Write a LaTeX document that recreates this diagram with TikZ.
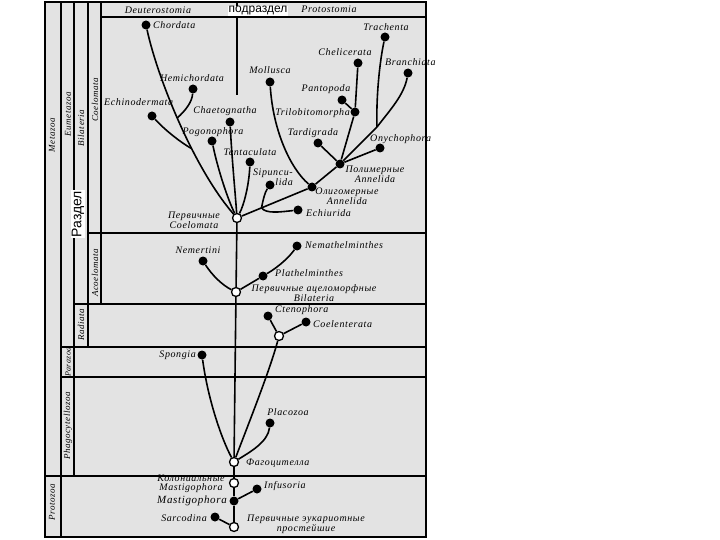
\documentclass[tikz,border=0pt]{standalone}
\usepackage{fontspec}
\newfontfamily\labfont[LetterSpace=6]{Liberation Serif}
\newfontfamily\annfont{Liberation Sans}
\begin{document}
\begin{tikzpicture}[x=1pt,y=-1pt,
  dot/.style={circle,fill=black,inner sep=0pt,minimum size=9pt},
  odot/.style={circle,draw=black,fill=white,line width=1.3pt,inner sep=0pt,minimum size=9pt},
  lab/.style={font=\labfont\itshape\fontsize{10}{8.6}\selectfont,inner sep=0pt,align=center},
  clab/.style={lab,font=\labfont\itshape\fontsize{9}{9}\selectfont,rotate=90},
  ann/.style={font=\annfont,fill=white,inner sep=0.5pt},
  br/.style={line width=1.6pt},
  frame/.style={line width=1.1pt}]
\useasboundingbox (0,0) rectangle (720,540);
% frame
\fill[black!11] (45,2) rectangle (426,537);
\draw[frame] (45,2) rectangle (426,537);
\draw[frame] (61,2) -- (61,537);
\draw[frame] (74,2) -- (74,476);
\draw[frame] (88,2) -- (88,347);
\draw[frame] (101,2) -- (101,304);
\draw[frame] (101,17) -- (426,17);
\draw[frame] (88,233) -- (426,233);
\draw[frame] (74,304) -- (426,304);
\draw[frame] (61,347) -- (426,347);
\draw[frame] (61,377) -- (426,377);
\draw[frame] (45,476) -- (426,476);
% column labels
\node[clab] (metazoa) at (52,135) {Metazoa};
\node[clab] (eumetazoa) at (68,114) {Eumetazoa};
\node[clab] (bilateria) at (81,128) {Bilateria};
\node[clab] (coelomata) at (95,100) {Coelomata};
\node[clab] (acoelomata) at (95,273) {Acoelomata};
\node[clab] (radiata) at (81,325) {Radiata};
\node[clab,font=\labfont\itshape\fontsize{8}{8}\selectfont] (parazoa) at (68,362) {Parazoa};
\node[clab] (phagocytellozoa) at (68,426) {Phagocytellozoa};
\node[clab] (protozoa) at (52,502) {Protozoa};
\node[lab] (deut) at (158,10) {Deuterostomia};
\node[lab] (prot) at (329,9) {Protostomia};
% annotation line
\coordinate (subTop) at (237,2);
\coordinate (subBot) at (237,95);
\draw[line width=1.4pt] (subTop) -- (subBot);
\node[ann,font=\annfont\fontsize{12}{12}\selectfont] (podrazdel) at (258,11) {подраздел};
\node[ann,font=\annfont\fontsize{14}{14}\selectfont,rotate=90] (razdel) at (78,214) {Раздел};
% nodes
\node[odot] (coel) at (237,218) {};
\node[odot] (acoel) at (236,292) {};
\node[odot] (radJ) at (279,336) {};
\node[odot] (phago) at (234,462) {};
\node[odot] (kolon) at (234,483) {};
\node[odot] (prim) at (234,527) {};
\node[dot] (chordata) at (146,25) {};
\node[dot] (hemi) at (193,89) {};
\node[dot] (echino) at (152,116) {};
\node[dot] (chaeto) at (230,122) {};
\node[dot] (pogono) at (212,141) {};
\node[dot] (tenta) at (250,162) {};
\node[dot] (sipun) at (270,185) {};
\node[dot] (echiu) at (298,210) {};
\node[dot] (olig) at (312,187) {};
\node[dot] (poly) at (340,164) {};
\node[dot] (tardi) at (318,143) {};
\node[dot] (onycho) at (380,148) {};
\node[dot] (mollusca) at (270,82) {};
\node[dot] (trilob) at (355,112) {};
\node[dot] (panto) at (342,100) {};
\node[dot] (cheli) at (358,63) {};
\node[dot] (trach) at (385,37) {};
\node[dot] (branch) at (408,73) {};
\coordinate (artJ) at (377,127);
\node[dot] (nemert) at (203,261) {};
\node[dot] (nemath) at (297,246) {};
\node[dot] (plath) at (263,276) {};
\node[dot] (cteno) at (268,316) {};
\node[dot] (coelent) at (306,322) {};
\node[dot] (spongia) at (202,355) {};
\node[dot] (placo) at (270,423) {};
\node[dot] (mastig) at (234,501) {};
\node[dot] (infus) at (257,489) {};
\node[dot] (sarco) at (215,517) {};
% labels
\node[lab,anchor=west] (chordataL) at (153,25) {Chordata};
\node[lab] (hemiL) at (192,78) {Hemichordata};
\node[lab,anchor=west] (echinoL) at (104,102) {Echinodermata};
\node[lab] (chaetoL) at (225,111) {Chaetognatha};
\node[lab] (pogonoL) at (213,132) {Pogonophora};
\node[lab] (tentaL) at (250,152) {Tentaculata};
\node[lab,align=right,anchor=north east] (sipunL) at (293,169) {Sipuncu-\\lida};
\node[lab,anchor=west] (echiuL) at (306,213) {Echiurida};
\node[lab] (oligL) at (347,196) {Олигомерные\\Annelida};
\node[lab] (polyL) at (375,174) {Полимерные\\Annelida};
\node[lab] (tardiL) at (313,133) {Tardigrada};
\node[lab,anchor=west] (onychoL) at (370,139) {Onychophora};
\node[lab] (molluscaL) at (270,70) {Mollusca};
\node[lab,anchor=east] (trilobL) at (350,113) {Trilobitomorpha};
\node[lab] (pantoL) at (326,89) {Pantopoda};
\node[lab] (cheliL) at (345,52) {Chelicerata};
\node[lab] (trachL) at (386,27) {Trachenta};
\node[lab,anchor=west] (branchL) at (385,62) {Branchiata};
\node[lab] (coelL) at (194,220) {Первичные\\Coelomata};
\node[lab] (nemertL) at (198,250) {Nemertini};
\node[lab,anchor=west] (nemathL) at (305,245) {Nemathelminthes};
\node[lab,anchor=west] (plathL) at (275,273) {Plathelminthes};
\node[lab] (acoelL) at (314,293) {Первичные ацеломорфные\\Bilateria};
\node[lab,anchor=west] (ctenoL) at (275,310) {Ctenophora};
\node[lab,anchor=west] (coelentL) at (313,324) {Coelenterata};
\node[lab,anchor=east] (spongiaL) at (196,355) {Spongia};
\node[lab] (placoL) at (288,412) {Placozoa};
\node[lab,anchor=west] (phagoL) at (246,463) {Фагоцителла};
\node[lab] (kolonL) at (191,484) {Колониальные\\Mastigophora};
\node[lab,font=\labfont\itshape\fontsize{11}{11}\selectfont,anchor=east] (mastigL) at (227,501) {Mastigophora};
\node[lab,anchor=west] (infusL) at (264,486) {Infusoria};
\node[lab,anchor=east] (sarcoL) at (207,518) {Sarcodina};
\node[lab] (primL) at (306,524) {Первичные эукариотные\\простейшие};
% branches: Deuterostomia
\draw[br] (chordata) .. controls (158,80) and (195,170) .. coordinate[pos=0.47] (hemiJ) coordinate[pos=0.62] (echJ) (coel);
\draw[br] (hemi) .. controls (192,102) and (186,110) .. (hemiJ);
\draw[br] (echino) .. controls (165,130) and (180,142) .. (echJ);
\draw[br] (chaeto) .. controls (232,160) and (235,190) .. (coel);
\draw[br] (pogono) .. controls (218,170) and (228,200) .. (coel);
\draw[br] (tenta) .. controls (249,185) and (244,205) .. (coel);
% Protostomia
\draw[br] (coel) -- coordinate[pos=0.3] (sipJ) (olig);
\draw[br] (sipun) .. controls (265,192) and (263,200) .. (sipJ);
\draw[br] (echiu) .. controls (280,212) and (266,214) .. (sipJ);
\draw[br] (mollusca) .. controls (273,130) and (290,168) .. (olig);
\draw[br] (olig) -- (poly);
\draw[br] (poly) -- (tardi);
\draw[br] (poly) -- (onycho);
\draw[br] (poly) -- (trilob);
\draw[br] (poly) -- (artJ);
\draw[br] (trilob) -- (panto);
\draw[br] (trilob) -- (cheli);
\draw[br] (artJ) .. controls (376,95) and (380,60) .. (trach);
\draw[br] (artJ) .. controls (390,110) and (404,95) .. (branch);
% Acoelomata
\draw[br] (coel) -- (acoel);
\draw[br] (nemert) .. controls (212,275) and (222,285) .. (acoel);
\draw[br] (acoel) -- (plath);
\draw[br] (plath) .. controls (280,266) and (290,256) .. (nemath);
\draw[br] (acoel) -- (phago);
% Radiata, Parazoa, Placozoa
\draw[br] (cteno) -- (radJ);
\draw[br] (coelent) -- (radJ);
\draw[br] (radJ) .. controls (270,370) and (248,425) .. (phago);
\draw[br] (spongia) .. controls (208,400) and (222,440) .. (phago);
\draw[br] (placo) .. controls (268,442) and (250,452) .. (phago);
% Protozoa
\draw[br] (phago) -- (kolon);
\draw[br] (kolon) -- (mastig);
\draw[br] (mastig) -- (infus);
\draw[br] (mastig) -- (prim);
\draw[br] (sarco) -- (prim);
\end{tikzpicture}
\end{document}
